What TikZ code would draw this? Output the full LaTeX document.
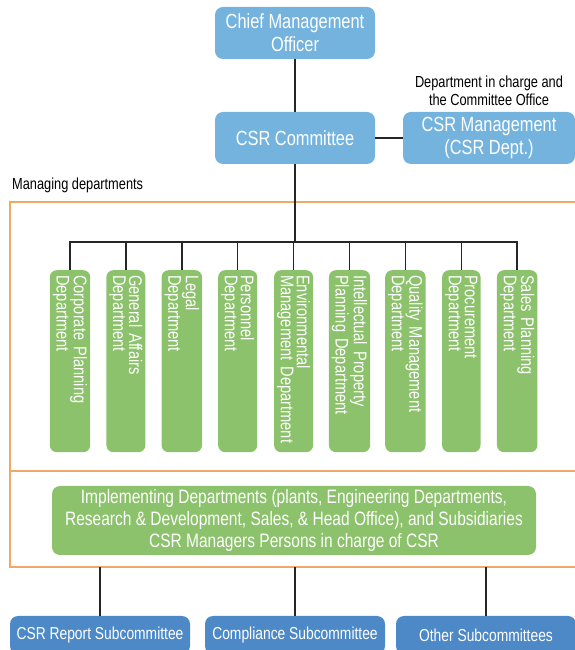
\documentclass[tikz,border=0pt]{standalone}
\usepackage{fontspec}
\setmainfont{Liberation Sans}[FakeStretch=0.8]
\usetikzlibrary{positioning}
\definecolor{boxblue}{HTML}{74B3DE}
\definecolor{subblue}{HTML}{4C89C6}
\definecolor{deptgreen}{HTML}{8CC26C}
\definecolor{frameorange}{HTML}{F0A867}
\tikzset{
  topbox/.style={fill=boxblue, rounded corners=8pt, text=white, align=center,
    minimum width=160pt, minimum height=52pt, inner sep=2pt,
    font=\fontsize{20.5}{23}\selectfont},
  subbox/.style={fill=subblue, rounded corners=8pt, text=white, align=center,
    minimum width=180pt, minimum height=38pt, inner sep=2pt,
    font=\fontsize{17.3}{20}\selectfont},
  dept/.style={fill=deptgreen, rounded corners=7pt, text=white, rotate=-90,
    anchor=west, minimum width=182pt, minimum height=38pt, text width=172pt,
    align=left, inner sep=3pt, font=\fontsize{18.3}{16}\selectfont},
  impl/.style={fill=deptgreen, rounded corners=8pt, text=white, align=center,
    minimum width=484pt, minimum height=69pt, inner sep=2pt,
    font=\fontsize{19.4}{22}\selectfont},
  note/.style={align=center, inner sep=0pt, font=\fontsize{16}{18}\selectfont},
  conn/.style={draw=black!85, line width=1.5pt},
  frame/.style={draw=frameorange, line width=2.5pt}
}
\begin{document}
\begin{tikzpicture}[x=1pt,y=1pt]
\useasboundingbox (0,0) rectangle (575,650);
% top of the chart
\node[topbox] (cmo) at (295,617) {Chief Management\\Officer};
\node[topbox] (com) at (295,512) {CSR Committee};
\node[topbox, minimum width=172pt] (csrm) at (489,512) {CSR Management\\(CSR Dept.)};
\node[note] (office) at (489,559) {Department in charge and\\the Committee Office};
\node[note, anchor=west] (mng) at (12,465) {Managing departments};
% orange frame
\draw[frame] (585,448) -- (10,448) -- (10,83) -- (585,83);
\draw[frame] (10,179) -- (585,179);
\coordinate (bus) at (295,408);
\coordinate (fb) at (0,83);
% managing departments
\foreach \lbl [count=\i] in {{Corporate Planning\\Department},{General Affairs\\Department},
    {Legal\\Department},{Personnel\\Department},{Environmental\\Management Department},
    {Intellectual Property\\Planning Department},{Quality Management\\Department},
    {Procurement\\Department},{Sales Planning\\Department}}
  \node[dept] (d\i) at ({70+55.9*(\i-1)},380) {\lbl};
\node[impl] (impl) at (294,129.5) {Implementing Departments (plants, Engineering Departments,\\
  Research \& Development, Sales, \& Head Office), and Subsidiaries\\
  CSR Managers Persons in charge of CSR};
% subcommittees
\node[subbox] (rep) at (100,15) {CSR Report Subcommittee};
\node[subbox] (cpl) at (295,15) {Compliance Subcommittee};
\node[subbox] (oth) at (486,15) {Other Subcommittees};
% connectors
\draw[conn] (cmo) -- (com);
\draw[conn] (com) -- (csrm);
\draw[conn] (com) -- (bus);
\foreach \i in {1,...,9}
  \draw[conn] (d\i.west) |- (bus);
\foreach \s in {rep,cpl,oth}
  \draw[conn] (\s.north) -- (\s |- fb);
\end{tikzpicture}
\end{document}
